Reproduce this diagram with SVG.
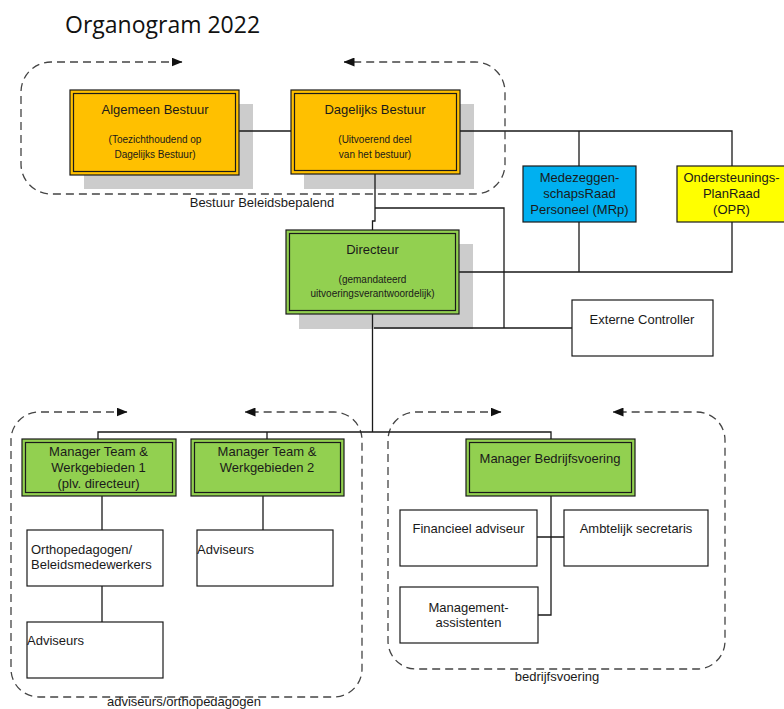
<svg xmlns="http://www.w3.org/2000/svg" width="784" height="709" viewBox="0 0 784 709">
<style>
  .t{font-family:"Liberation Sans",Arial,sans-serif;fill:#1a1a1a;}
  .c{text-anchor:middle;}
  .f13{font-size:13px;}
  .f10{font-size:10px;}
  .ln{fill:none;stroke:#1a1a1a;stroke-width:1.3;}
  .grp{fill:none;stroke:#444;stroke-width:1.3;stroke-dasharray:8 5;}
  .sh{fill:#cccccc;}
  .dbl{stroke:#1a1a1a;stroke-width:1.2;}
  .inr{fill:none;stroke:#1a1a1a;stroke-width:1.2;}
  .box{fill:#ffffff;stroke:#1a1a1a;stroke-width:1.2;}
</style>
<defs>
  <marker id="ah" markerWidth="11" markerHeight="9" refX="10.5" refY="4.5" orient="auto-start-reverse" markerUnits="userSpaceOnUse">
    <path d="M0,0 L11,4.5 L0,9 z" fill="#111"/>
  </marker>
</defs>
<rect width="784" height="709" fill="#ffffff"/>
<text x="65" y="33" style="font-family:'Open Sans','Noto Sans',sans-serif;font-size:23px;fill:#111">Organogram 2022</text>

<g id="containers">
  <path class="grp" d="M182 62 H51 A30 30 0 0 0 21 92 V164 A30 30 0 0 0 51 194 H475 A30 30 0 0 0 505 164 V92 A30 30 0 0 0 475 62 H344" marker-start="url(#ah)" marker-end="url(#ah)"/>
  <text class="t c f13" x="262" y="206.5">Bestuur Beleidsbepalend</text>
  <path class="grp" d="M127 412 H39 A28 28 0 0 0 11 440 V669 A28 28 0 0 0 39 697 H334 A28 28 0 0 0 362 669 V440 A28 28 0 0 0 334 412 H245" marker-start="url(#ah)" marker-end="url(#ah)"/>
  <text class="t c f13" x="184" y="706">adviseurs/orthopedagogen</text>
  <path class="grp" d="M501 412 H416 A28 28 0 0 0 388 440 V641 A28 28 0 0 0 416 669 H697 A28 28 0 0 0 725 641 V440 A28 28 0 0 0 697 412 H613" marker-start="url(#ah)" marker-end="url(#ah)"/>
  <text class="t c f13" x="557" y="681">bedrijfsvoering</text>
</g>

<g id="shadows">
  <rect class="sh" x="84" y="104" width="169" height="85"/>
  <rect class="sh" x="304" y="104" width="170" height="85"/>
  <rect class="sh" x="299" y="244" width="174" height="85"/>
</g>

<g id="connectors">
  <path class="ln" d="M239 131 H291"/>
  <path class="ln" d="M460 131 H732 V166 M579 131 V166"/>
  <path class="ln" d="M375 174 V221 H372.5 V230"/>
  <path class="ln" d="M375 208 H504 V328"/>
  <path class="ln" d="M459 272 H732 V222 M579 222 V272"/>
  <path class="ln" d="M372.5 314 V432"/>
  <path class="ln" d="M374 328 H572"/>
  <path class="ln" d="M98 439 V432 H551 V439 M267 432 V439"/>
  <path class="ln" d="M102 496 V530 M102 586 V622"/>
  <path class="ln" d="M263 496 V530"/>
  <path class="ln" d="M551 496 V615 H538 M537 537 H564"/>
</g>

<g id="algemeen-bestuur">
  <rect class="dbl" x="70" y="90" width="169" height="85" fill="#ffc000"/>
  <rect class="inr" x="73.5" y="93.5" width="162" height="78"/>
  <text class="t c f13" x="155" y="113.5">Algemeen Bestuur</text>
  <text class="t c f10" x="155" y="142.5">(Toezichthoudend op</text>
  <text class="t c f10" x="155" y="157.5">Dagelijks Bestuur)</text>
</g>
<g id="dagelijks-bestuur">
  <rect class="dbl" x="291" y="90" width="169" height="84" fill="#ffc000"/>
  <rect class="inr" x="294.5" y="93.5" width="162" height="77"/>
  <text class="t c f13" x="375" y="113.5">Dagelijks Bestuur</text>
  <text class="t c f10" x="375" y="142.5">(Uitvoerend deel</text>
  <text class="t c f10" x="375" y="157.5">van het bestuur)</text>
</g>
<g id="mrp">
  <rect class="box" x="523" y="166" width="113" height="56" style="fill:#00b0f0"/>
  <text class="t c f13" x="579.5" y="181.5">Medezeggen-</text>
  <text class="t c f13" x="579.5" y="197.5">schapsRaad</text>
  <text class="t c f13" x="579.5" y="213.5">Personeel (MRp)</text>
</g>
<g id="opr">
  <rect class="box" x="677" y="166" width="110" height="56" style="fill:#ffff00"/>
  <text class="t c f13" x="731.5" y="181.5">Ondersteunings-</text>
  <text class="t c f13" x="731.5" y="197.5">PlanRaad</text>
  <text class="t c f13" x="731.5" y="213.5">(OPR)</text>
</g>
<g id="directeur">
  <rect class="dbl" x="286" y="230" width="173" height="84" fill="#92d050"/>
  <rect class="inr" x="289.5" y="233.5" width="166" height="77"/>
  <text class="t c f13" x="372.5" y="253.5">Directeur</text>
  <text class="t c f10" x="372.5" y="282.5">(gemandateerd</text>
  <text class="t c f10" x="372.5" y="296.5">uitvoeringsverantwoordelijk)</text>
</g>
<g id="externe-controller">
  <rect class="box" x="572" y="300" width="141" height="56"/>
  <text class="t c f13" x="642" y="323.5">Externe Controller</text>
</g>
<g id="manager-team-1">
  <rect class="dbl" x="22" y="439" width="154" height="57" fill="#92d050"/>
  <rect class="inr" x="25.5" y="442.5" width="147" height="50"/>
  <text class="t c f13" x="98.5" y="455.5">Manager Team &amp;</text>
  <text class="t c f13" x="98.5" y="471.5">Werkgebieden 1</text>
  <text class="t c f13" x="98.5" y="487.5">(plv. directeur)</text>
</g>
<g id="manager-team-2">
  <rect class="dbl" x="191" y="439" width="153" height="57" fill="#92d050"/>
  <rect class="inr" x="194.5" y="442.5" width="146" height="50"/>
  <text class="t c f13" x="267" y="455.5">Manager Team &amp;</text>
  <text class="t c f13" x="267" y="471.5">Werkgebieden 2</text>
</g>
<g id="orthopedagogen">
  <rect class="box" x="27" y="530" width="136" height="56"/>
  <text class="t f13" x="31" y="554">Orthopedagogen/</text>
  <text class="t f13" x="31" y="569">Beleidsmedewerkers</text>
</g>
<g id="adviseurs-1">
  <rect class="box" x="27" y="622" width="136" height="56"/>
  <text class="t f13" x="27" y="644.5">Adviseurs</text>
</g>
<g id="adviseurs-2">
  <rect class="box" x="197" y="530" width="136" height="56"/>
  <text class="t f13" x="197" y="553.5">Adviseurs</text>
</g>
<g id="manager-bedrijfsvoering">
  <rect class="dbl" x="466" y="439" width="169" height="57" fill="#92d050"/>
  <rect class="inr" x="469.5" y="442.5" width="162" height="50"/>
  <text class="t c f13" x="550" y="462.5">Manager Bedrijfsvoering</text>
</g>
<g id="financieel-adviseur">
  <rect class="box" x="400" y="510" width="137" height="56"/>
  <text class="t c f13" x="468.5" y="532.5">Financieel adviseur</text>
</g>
<g id="ambtelijk-secretaris">
  <rect class="box" x="564" y="510" width="144" height="56"/>
  <text class="t c f13" x="636" y="532.5">Ambtelijk secretaris</text>
</g>
<g id="managementassistenten">
  <rect class="box" x="400" y="587" width="138" height="56"/>
  <text class="t c f13" x="468.5" y="611.5">Management-</text>
  <text class="t c f13" x="468.5" y="626.5">assistenten</text>
</g>
</svg>
